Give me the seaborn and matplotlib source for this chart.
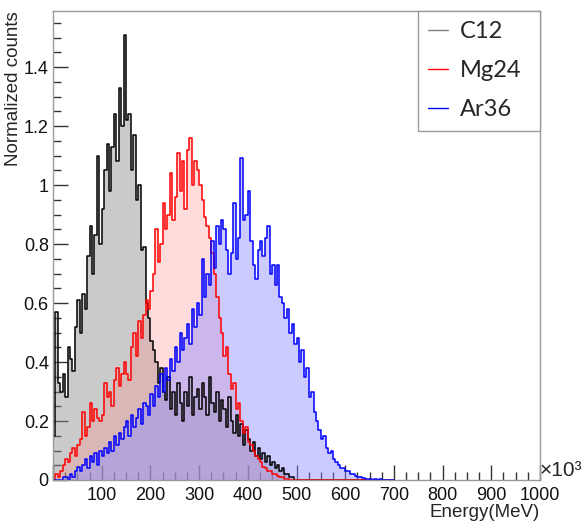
import numpy as np
import pandas as pd
import matplotlib
matplotlib.use("Agg")
import matplotlib.pyplot as plt
from matplotlib.lines import Line2D
from matplotlib.ticker import MultipleLocator, FuncFormatter
import seaborn as sns

# energy bins (x10^3 MeV), 5 wide, 0 -> 700
BIN_WIDTH = 5
edges = list(range(0, 700 + BIN_WIDTH, BIN_WIDTH))
centers = [e + BIN_WIDTH / 2 for e in edges[:-1]]

labels = ["C12", "Mg24", "Ar36"]

# normalized counts, one row = 50 units of energy
c12 = [
    0.15, 0.57, 0.33, 0.30, 0.36, 0.28, 0.45, 0.41, 0.37, 0.52,
    0.61, 0.50, 0.63, 0.58, 0.76, 0.86, 0.70, 0.83, 1.10, 0.80,
    0.92, 1.05, 1.14, 0.98, 1.13, 1.24, 1.08, 1.33, 1.20, 1.51,
    1.22, 1.24, 1.05, 1.17, 0.95, 1.00, 0.78, 0.79, 0.60, 0.55,
    0.47, 0.44, 0.40, 0.33, 0.38, 0.30, 0.27, 0.35, 0.24, 0.30,
    0.22, 0.33, 0.26, 0.20, 0.30, 0.25, 0.35, 0.22, 0.28, 0.31,
    0.24, 0.33, 0.28, 0.22, 0.35, 0.26, 0.23, 0.30, 0.20, 0.27,
    0.24, 0.18, 0.28, 0.20, 0.16, 0.22, 0.15, 0.19, 0.12, 0.17,
    0.14, 0.10, 0.13, 0.08, 0.11, 0.07, 0.09, 0.06, 0.08, 0.05,
    0.06, 0.04, 0.05, 0.03, 0.04, 0.02, 0.02, 0.01, 0.01, 0.00,
    0, 0, 0, 0, 0, 0, 0, 0, 0, 0,
    0, 0, 0, 0, 0, 0, 0, 0, 0, 0,
    0, 0, 0, 0, 0, 0, 0, 0, 0, 0,
    0, 0, 0, 0, 0, 0, 0, 0, 0, 0,
]
mg24 = [
    0.00, 0.02, 0.01, 0.03, 0.05, 0.07, 0.06, 0.09, 0.11, 0.08,
    0.12, 0.14, 0.23, 0.15, 0.18, 0.26, 0.20, 0.24, 0.21, 0.20,
    0.22, 0.33, 0.28, 0.30, 0.25, 0.34, 0.38, 0.32, 0.36, 0.40,
    0.36, 0.34, 0.45, 0.50, 0.42, 0.54, 0.48, 0.56, 0.61, 0.58,
    0.64, 0.70, 0.85, 0.74, 0.80, 0.94, 0.85, 0.90, 1.04, 0.88,
    0.96, 1.11, 0.98, 1.08, 0.92, 1.12, 1.16, 1.00, 1.08, 1.05,
    1.00, 0.95, 0.89, 0.86, 0.82, 0.77, 0.70, 0.62, 0.55, 0.50,
    0.42, 0.45, 0.36, 0.31, 0.33, 0.24, 0.26, 0.20, 0.16, 0.18,
    0.13, 0.12, 0.10, 0.08, 0.07, 0.06, 0.045, 0.04, 0.03, 0.03,
    0.02, 0.02, 0.015, 0.01, 0.01, 0.005, 0.005, 0, 0, 0,
    0, 0, 0, 0, 0, 0, 0, 0, 0, 0,
    0, 0, 0, 0, 0, 0, 0, 0, 0, 0,
    0, 0, 0, 0, 0, 0, 0, 0, 0, 0,
    0, 0, 0, 0, 0, 0, 0, 0, 0, 0,
]
ar36 = [
    0, 0, 0, 0, 0.01, 0.01, 0.00, 0.02, 0.01, 0.03,
    0.045, 0.03, 0.05, 0.07, 0.04, 0.08, 0.06, 0.09, 0.05, 0.10,
    0.08, 0.11, 0.09, 0.13, 0.10, 0.15, 0.12, 0.16, 0.14, 0.18,
    0.20, 0.15, 0.22, 0.18, 0.21, 0.24, 0.19, 0.26, 0.25, 0.22,
    0.29, 0.25, 0.32, 0.28, 0.36, 0.30, 0.38, 0.34, 0.41, 0.37,
    0.45, 0.40, 0.50, 0.44, 0.48, 0.53, 0.46, 0.58, 0.52, 0.60,
    0.56, 0.75, 0.62, 0.70, 0.66, 0.81, 0.72, 0.86, 0.80, 0.88,
    0.85, 0.78, 0.70, 0.77, 0.94, 0.75, 0.82, 1.09, 0.88, 0.90,
    0.98, 0.81, 0.73, 0.68, 0.78, 0.81, 0.76, 0.82, 0.86, 0.70,
    0.73, 0.66, 0.73, 0.62, 0.60, 0.55, 0.58, 0.50, 0.53, 0.46,
    0.48, 0.40, 0.44, 0.35, 0.38, 0.28, 0.30, 0.23, 0.20, 0.17,
    0.14, 0.15, 0.11, 0.09, 0.10, 0.07, 0.06, 0.05, 0.04, 0.04,
    0.03, 0.03, 0.02, 0.02, 0.015, 0.01, 0.01, 0.008, 0.005, 0.005,
    0.005, 0, 0.005, 0, 0.005, 0, 0, 0, 0, 0,
]

line_colors = ["#000000", "#ff0000", "#0000ff"]
fill_colors = ["#8a8a8a", "#ff8c8c", "#8c8cff"]
fill_alpha = [0.45, 0.30, 0.45]
legend_colors = ["#808080", "#ff0000", "#0000ff"]

sns.set_style("ticks")
plt.rcParams["font.family"] = ["Liberation Sans", "DejaVu Sans"]

fig = plt.figure(figsize=(5.81, 5.22), dpi=100)
ax = fig.add_axes([53 / 581, 42 / 522, 487 / 581, 469 / 522])

series = [c12, mg24, ar36]
frames = [pd.DataFrame({"energy": centers, "counts": vals}) for vals in series]
for df, fc, a in zip(frames, fill_colors, fill_alpha):
    sns.histplot(data=df, x="energy", weights="counts", bins=edges, element="step",
                 fill=True, color=fc, alpha=a, linewidth=0, ax=ax)
for df, lc in zip(frames, line_colors):
    sns.histplot(data=df, x="energy", weights="counts", bins=edges, element="step",
                 fill=False, color=lc, linewidth=1.1, ax=ax)

ax.set_xlim(0, 1000)
ax.set_ylim(0, 1.59)

# ROOT-like frame and ticks
for s in ax.spines.values():
    s.set_color("#9a9a9a")
    s.set_linewidth(1.0)
ax.xaxis.set_major_locator(MultipleLocator(100))
ax.xaxis.set_minor_locator(MultipleLocator(25))
ax.yaxis.set_major_locator(MultipleLocator(0.2))
ax.yaxis.set_minor_locator(MultipleLocator(0.05))
ax.xaxis.set_major_formatter(FuncFormatter(lambda v, p: "" if v == 0 else f"{v:g}"))
ax.yaxis.set_major_formatter(FuncFormatter(lambda v, p: f"{v:g}"))
ax.tick_params(which="both", direction="in", colors="#333333", labelcolor="#111111",
               labelsize=13, top=False, right=False)
ax.tick_params(which="major", length=10.5, width=1)
ax.tick_params(which="minor", length=5.5, width=1)
ax.tick_params(axis="y", pad=3)
ax.tick_params(axis="x", pad=5)

ax.set_xlabel("Energy(MeV)", fontsize=13.5, loc="right", labelpad=0)
ax.set_ylabel("Normalized counts", fontsize=13.5, loc="top")
ax.yaxis.set_label_coords(-0.063, 1.0)
ax.text(1.0, 0.0, "\u00d710\u00b3", transform=ax.transAxes, fontsize=15,
        ha="left", va="bottom")

handles = [Line2D([], [], color=c, lw=1) for c in legend_colors]
leg = ax.legend(handles, labels, loc="upper left",
                bbox_to_anchor=(0.7495, 0.0, 0.2505, 1.0), mode="expand",
                borderaxespad=0, frameon=True, fancybox=False, framealpha=1,
                prop={"family": "Lato", "size": 17}, handlelength=0.85,
                handletextpad=0.5, labelspacing=0.76, borderpad=0.44)
leg.get_frame().set_edgecolor("#9a9a9a")
leg.get_frame().set_linewidth(1.0)

fig.savefig("out.png", dpi=100)
